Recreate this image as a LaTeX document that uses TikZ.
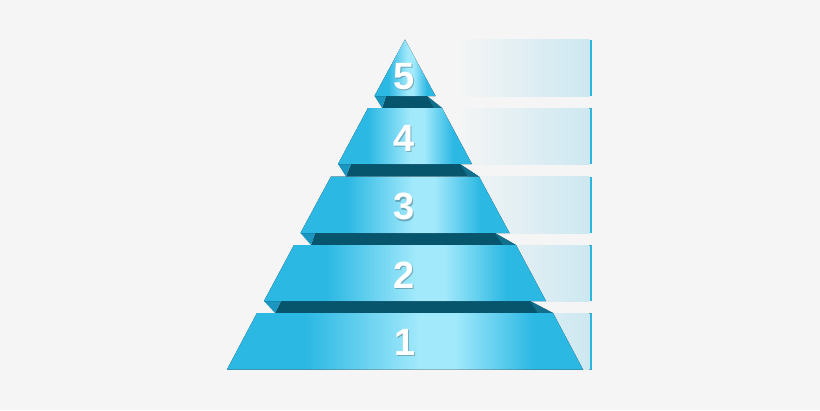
\documentclass[tikz,border=0pt]{standalone}
\usepackage{fontspec}
\setmainfont{Liberation Sans}
\usepackage{tikz}

\definecolor{pagebg}{HTML}{F5F5F5}
\definecolor{bandcyan}{HTML}{2BB8E3}
\definecolor{bandlight}{HTML}{A2E9FB}
\definecolor{gapdark}{HTML}{07556D}
\definecolor{foldcyan}{HTML}{1A96C0}
\definecolor{tailmid}{HTML}{12708D}
\definecolor{panelblue}{HTML}{CDE8F1}
\definecolor{edgeblue}{HTML}{2BB5E0}

\pgfdeclarehorizontalshading{bandshade}{100bp}{color(0bp)=(bandcyan); color(36bp)=(bandcyan); color(52bp)=(bandlight); color(57bp)=(bandlight); color(68bp)=(bandcyan); color(100bp)=(bandcyan)}

\begin{document}
\begin{tikzpicture}[x=1pt, y=-1pt,
        band/.style={shading=bandshade},
        gap/.style={fill=gapdark},
        fold/.style={fill=foldcyan},
        tail/.style={fill=tailmid},
        panel/.style={left color=pagebg, right color=panelblue},
        edge/.style={fill=edgeblue},
        digit/.style={text=white, inner sep=0pt, font=\fontsize{38}{38}\selectfont\bfseries},
        digitshadow/.style={digit, text=black, opacity=0.25}]
        % Page
        \useasboundingbox[fill=pagebg] (0,0) rectangle (820,410);

        % Text panels on the right
        \fill[panel] (455,39.5) rectangle (589.5,96);
        \fill[panel] (455,108) rectangle (589.5,164);
        \fill[panel] (455,176.5) rectangle (589.5,233);
        \fill[panel] (455,245) rectangle (589.5,301);
        \fill[panel] (455,313) rectangle (589.5,369.5);
        \fill[edge] (589.5,39.5) rectangle (592,96);
        \fill[edge] (589.5,108) rectangle (592,164);
        \fill[edge] (589.5,176.5) rectangle (592,233);
        \fill[edge] (589.5,245) rectangle (592,301);
        \fill[edge] (589.5,313) rectangle (592,369.5);

        % Dark backs between the bands
        \fill[gap] (386,96) -- (427,96) -- (442,108) -- (382,108) -- cycle;
        \fill[gap] (351,164) -- (460,164) -- (479,176.5) -- (346,176.5) -- cycle;
        \fill[gap] (315,233) -- (495,233) -- (516,245) -- (311,245) -- cycle;
        \fill[gap] (281,301) -- (530,301) -- (553,313) -- (275,313) -- cycle;
        \fill[tail] (427,96) -- (442,108) -- (434,108) -- cycle;
        \fill[tail] (460,164) -- (479,176.5) -- (468,176.5) -- cycle;
        \fill[tail] (495,233) -- (516,245) -- (503,245) -- cycle;
        \fill[tail] (530,301) -- (553,313) -- (538,313) -- cycle;

        % Folds at the left
        \fill[fold] (374.5,96) -- (386,96) -- (382,108) -- cycle;
        \fill[fold] (338,164) -- (351,164) -- (346,176.5) -- cycle;
        \fill[fold] (300.5,233) -- (315,233) -- (311,245) -- cycle;
        \fill[fold] (264,301) -- (281,301) -- (275,313) -- cycle;

        % Bands
        \fill[band] (405,39.5) -- (435.5,96) -- (374.5,96) -- cycle;
        \fill[band] (368,108) -- (442,108) -- (472,164) -- (338,164) -- cycle;
        \fill[band] (331,176.5) -- (479,176.5) -- (509.5,233) -- (300.5,233) -- cycle;
        \fill[band] (294,245) -- (516,245) -- (546,301) -- (264,301) -- cycle;
        \fill[band] (257,313) -- (553,313) -- (583,369.5) -- (227,369.5) -- cycle;

        % Numbers
        \node[digitshadow] (s5) at (405,78) {5};
        \node[digit] (n5) at (404,76.5) {5};
        \node[digitshadow] (s4) at (405,139.5) {4};
        \node[digit] (n4) at (404,138) {4};
        \node[digitshadow] (s3) at (405,208) {3};
        \node[digit] (n3) at (404,206.5) {3};
        \node[digitshadow] (s2) at (405,276.5) {2};
        \node[digit] (n2) at (404,275) {2};
        \node[digitshadow] (s1) at (406,343.5) {1};
        \node[digit] (n1) at (405,342) {1};
    \end{tikzpicture}
\end{document}
